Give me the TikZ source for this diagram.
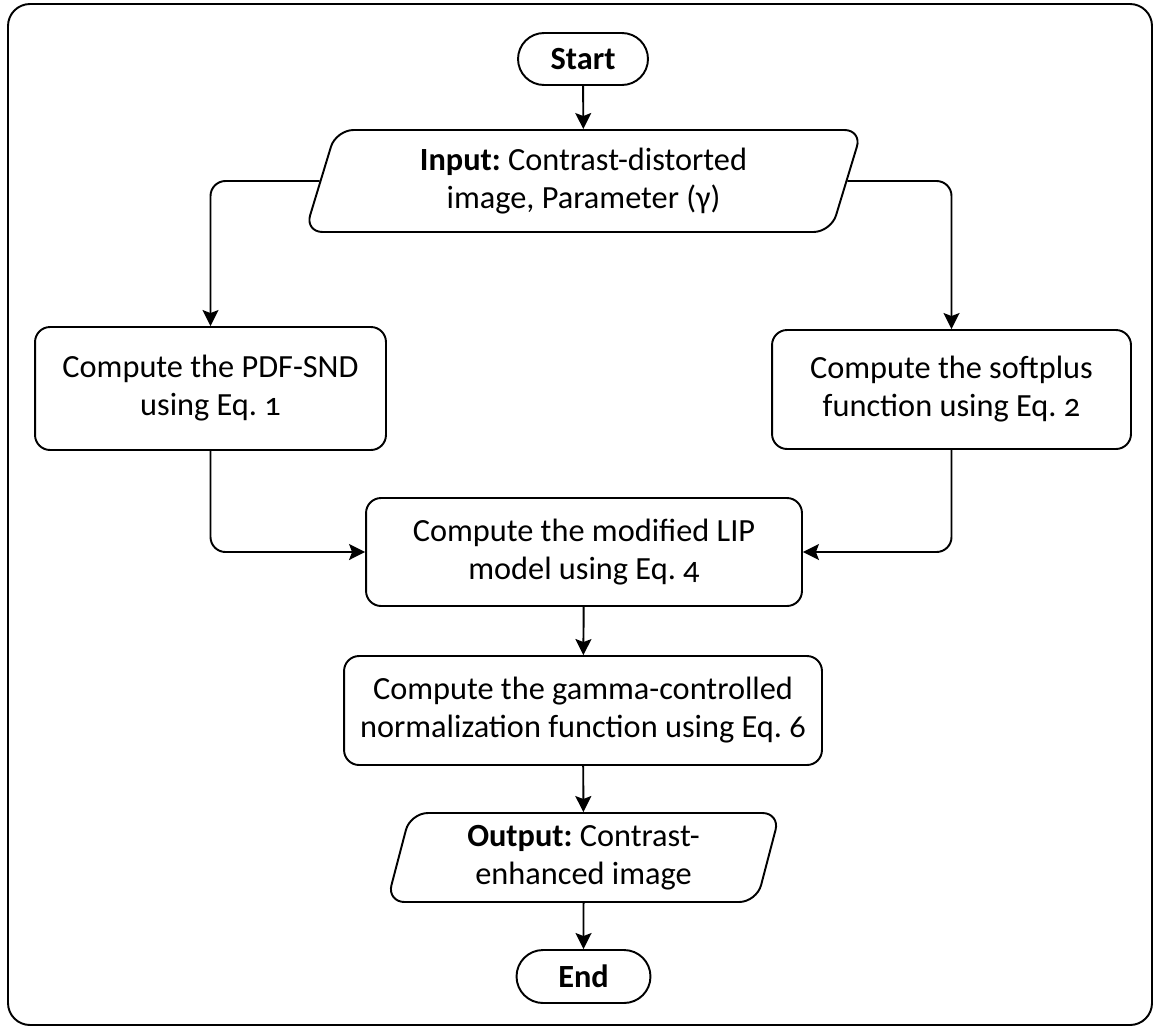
\documentclass[tikz,border=0pt]{standalone}
\usepackage{fontspec}
\setmainfont{Carlito}[Numbers=OldStyle]
\usetikzlibrary{shapes, arrows.meta, positioning, calc}
\frenchspacing

\begin{document}
\begin{tikzpicture}[x=0.02cm, y=-0.02cm, line width=1.1pt,
	every node/.style={draw, align=center, inner sep=2pt, font=\fontsize{18.4}{21.6}\selectfont},
	term/.style={rounded rectangle, minimum width=2.74cm, minimum height=1.04cm, font=\fontsize{18.4}{21.6}\selectfont\bfseries},
	proc/.style={rectangle, rounded corners=0.3cm},
	io/.style={trapezium, trapezium left angle=#1, trapezium right angle=180-#1, trapezium stretches body, rounded corners=0.35cm},
	arr/.style={-{Stealth[length=0.32cm, width=0.32cm, inset=0.06cm]}, rounded corners=0.3cm}]
		\useasboundingbox (0,0) rectangle (1155,1028);
		\draw[rounded corners=0.44cm] (8,4) rectangle (1152,1025); % frame

		\node[term] (start) at (583,59) {Start};
		\node[io=67, minimum width=11.14cm, minimum height=2.04cm] (input) at (583.5,181)
			{\textbf{Input:} Contrast-distorted\\image, Parameter (γ)};
		\node[proc, minimum width=7.02cm, minimum height=2.46cm] (pdf) at (210.5,388.5)
			{Compute the PDF-SND\\using Eq. 1};
		\node[proc, minimum width=7.18cm, minimum height=2.38cm] (soft) at (951.5,389.5)
			{Compute the softplus\\function using Eq. 2};
		\node[proc, minimum width=8.72cm, minimum height=2.16cm] (lip) at (584,552)
			{Compute the modified LIP\\model using Eq. 4};
		\node[proc, minimum width=9.56cm, minimum height=2.18cm] (gamma) at (583,710.5)
			{Compute the gamma-controlled\\normalization function using Eq. 6};
		\node[io=72, minimum width=7.86cm, minimum height=1.78cm] (output) at (583.5,857.5)
			{\textbf{Output:} Contrast-\\enhanced image};
		\node[term, minimum width=2.82cm, minimum height=1.06cm] (end) at (583.5,976.5) {End};

		\foreach \a/\b in {start/input, lip/gamma, gamma/output, output/end}
			\draw[arr] (\a) -- (\b);
		\draw[arr] (input.west) -| (pdf.north);
		\draw[arr] (input.east) -| (soft.north);
		\draw[arr] (pdf.south) |- (lip.west);
		\draw[arr] (soft.south) |- (lip.east);
	\end{tikzpicture}
\end{document}
